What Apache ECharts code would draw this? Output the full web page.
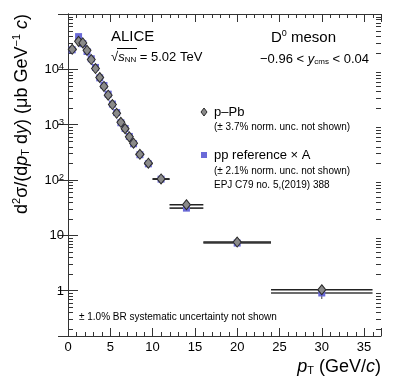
<!doctype html>
<html>
<head>
<meta charset="utf-8">
<title>D0 meson p-Pb</title>
<script src="https://cdn.jsdelivr.net/npm/echarts@6/dist/echarts.min.js"></script>
<style>
  html, body { margin: 0; padding: 0; background: #fff; }
  #main { width: 399px; height: 387px; }
</style>
</head>
<body>
<div id="main"></div>
<script type="text/javascript">
// pT bins (GeV/c)
var ptCenter = [0.5, 1.25, 1.75, 2.25, 2.75, 3.25, 3.75, 4.25, 4.75, 5.25, 5.75, 6.25, 6.75, 7.25, 7.75, 8.5, 9.5, 11, 14, 20, 30];
var ptLow    = [0, 1, 1.5, 2, 2.5, 3, 3.5, 4, 4.5, 5, 5.5, 6, 6.5, 7, 7.5, 8, 9, 10, 12, 16, 24];
var ptHigh   = [1, 1.5, 2, 2.5, 3, 3.5, 4, 4.5, 5, 5.5, 6, 6.5, 7, 7.5, 8, 9, 10, 12, 16, 24, 36];

// p-Pb cross section (ub GeV^-1 c) and stat. errors
var pPbValues = [23000, 32000, 30000, 22000, 15000, 10300, 7100, 4900, 3400, 2300, 1600, 1100, 840, 600, 460, 290, 200, 104, 35.5, 7.5, 1.03];
var pPbStat   = [1500, 2500, 1800, 1100, 700, 450, 300, 200, 130, 90, 60, 40, 32, 24, 18, 12, 9, 5, 1.8, 0.45, 0.12];

// pp reference x A
var ppValues = [22500, 39000, 29000, 21000, 15500, 10800, 7000, 5100, 3550, 2350, 1650, 1080, 850, 610, 450, 285, 195, 103, 30.8, 7.2, 0.9];
var ppStat   = [1000, 2000, 1000, 700, 500, 350, 220, 150, 100, 70, 50, 35, 28, 20, 15, 10, 7, 4, 1.5, 0.4, 0.2];

// axis ticks
var xMajor = [0, 5, 10, 15, 20, 25, 30, 35];
var xMinor = [1, 2, 3, 4, 6, 7, 8, 9, 11, 12, 13, 14, 16, 17, 18, 19, 21, 22, 23, 24, 26, 27, 28, 29, 31, 32, 33, 34, 36];
var yDecades = [0.1, 1, 10, 100, 1000, 10000];
var yMinorFactors = [2, 3, 4, 5, 6, 7, 8, 9];

var F = 'Liberation Sans, Arial, sans-serif';
var AX = '#333';

var myChart = echarts.init(document.getElementById('main'));

var yMinor = [];
yDecades.forEach(function (d) {
  yMinorFactors.forEach(function (k) {
    var v = d * k;
    if (v > 0.15 && v < 1e5) yMinor.push([0, v]);
  });
});

function errData(vals, stat) {
  return vals.map(function (v, i) {
    return [ptCenter[i], v, ptLow[i], ptHigh[i], v - stat[i], v + stat[i]];
  });
}

function renderErr(color, w) {
  return function (params, api) {
    var x = api.value(0), y = api.value(1);
    var pl = api.coord([api.value(2), y]);
    var pr = api.coord([api.value(3), y]);
    var plo = api.coord([x, api.value(4)]);
    var phi = api.coord([x, api.value(5)]);
    return {
      type: 'group',
      children: [
        { type: 'line', shape: { x1: pl[0], y1: pl[1], x2: pr[0], y2: pr[1] }, style: { stroke: color, lineWidth: w } },
        { type: 'line', shape: { x1: plo[0], y1: plo[1], x2: phi[0], y2: phi[1] }, style: { stroke: color, lineWidth: 1 } }
      ]
    };
  };
}

var option = {
  animation: false,
  backgroundColor: '#fff',
  grid: { left: 68, right: 18, top: 14, bottom: 51 },
  xAxis: [
    {
      type: 'value', min: 0, max: 37, interval: 5, position: 'bottom',
      axisLine: { lineStyle: { color: AX, width: 1 } },
      axisTick: { inside: true, length: 8, lineStyle: { color: AX } },
      axisLabel: {
        margin: 5, fontFamily: F, fontSize: 13, color: '#000',
        formatter: function (v) { return xMajor.indexOf(v) >= 0 ? String(v) : ''; }
      },
      splitLine: { show: false }
    },
    {
      type: 'value', min: 0, max: 37, interval: 5, position: 'top',
      axisLine: { lineStyle: { color: AX, width: 1 } },
      axisTick: { inside: true, length: 8, lineStyle: { color: AX } },
      axisLabel: { show: false },
      splitLine: { show: false }
    }
  ],
  yAxis: [
    {
      type: 'log', logBase: 10, min: 0.15, max: 1e5, position: 'left',
      axisLine: { show: true, lineStyle: { color: AX, width: 1 } },
      axisTick: { show: true, inside: true, length: 10, lineStyle: { color: AX } },
      axisLabel: {
        margin: 4, fontFamily: F, fontSize: 13, color: '#000',
        formatter: function (v) {
          var l = Math.log10(v), e = Math.round(l);
          if (Math.abs(l - e) > 1e-6 || e < 0 || e > 4) return '';
          if (e === 0) return '{b|1}';
          if (e === 1) return '{b|10}';
          return '{b|10}{s|' + e + '}';
        },
        rich: {
          b: { fontFamily: F, fontSize: 13, lineHeight: 14, verticalAlign: 'bottom', color: '#000' },
          s: { fontFamily: F, fontSize: 9, lineHeight: 9, padding: [0, 0, 8, 0], verticalAlign: 'top', color: '#000' }
        }
      },
      splitLine: { show: false }
    },
    {
      type: 'log', logBase: 10, min: 0.15, max: 1e5, position: 'right',
      axisLine: { show: true, lineStyle: { color: AX, width: 1 } },
      axisTick: { show: true, inside: true, length: 10, lineStyle: { color: AX } },
      axisLabel: { show: false },
      splitLine: { show: false }
    }
  ],
  series: [
    {
      // minor ticks of the log axis, both sides
      type: 'custom', silent: true, z: 1, clip: false,
      data: yMinor,
      renderItem: function (params, api) {
        var cs = params.coordSys;
        var y = Math.round(api.coord([0, api.value(1)])[1]) + 0.5;
        return {
          type: 'group',
          children: [
            { type: 'line', shape: { x1: cs.x, y1: y, x2: cs.x + 5, y2: y }, style: { stroke: AX, lineWidth: 1 } },
            { type: 'line', shape: { x1: cs.x + cs.width - 5, y1: y, x2: cs.x + cs.width, y2: y }, style: { stroke: AX, lineWidth: 1 } }
          ]
        };
      }
    },
    {
      // minor ticks of the x axis, top and bottom
      type: 'custom', silent: true, z: 1, clip: false,
      data: xMinor.map(function (x) { return [x, 1]; }),
      renderItem: function (params, api) {
        var cs = params.coordSys;
        var x = Math.round(api.coord([api.value(0), 1])[0]) + 0.5;
        return {
          type: 'group',
          children: [
            { type: 'line', shape: { x1: x, y1: cs.y + cs.height, x2: x, y2: cs.y + cs.height - 4 }, style: { stroke: AX, lineWidth: 1 } },
            { type: 'line', shape: { x1: x, y1: cs.y, x2: x, y2: cs.y + 4 }, style: { stroke: AX, lineWidth: 1 } }
          ]
        };
      }
    },
    {
      name: 'pp err', type: 'custom', silent: true, z: 2,
      data: errData(ppValues, ppStat),
      renderItem: renderErr('#3a3a3a', 1.6)
    },
    {
      name: 'p-Pb err', type: 'custom', silent: true, z: 2,
      data: errData(pPbValues, pPbStat),
      renderItem: renderErr('#222', 1.6)
    },
    {
      name: 'pp reference \u00d7 A', type: 'scatter', z: 3,
      symbol: 'rect', symbolSize: 7,
      itemStyle: { color: '#6a6ad8', opacity: 1 },
      data: ptCenter.map(function (x, i) { return [x, ppValues[i]]; })
    },
    {
      name: 'p\u2013Pb', type: 'scatter', z: 4,
      symbol: 'diamond', symbolSize: [8, 10],
      itemStyle: { color: '#8a8a8a', borderColor: '#2a2a2a', borderWidth: 1, opacity: 1 },
      data: ptCenter.map(function (x, i) { return [x, pPbValues[i]]; })
    }
  ],
  graphic: [
    { type: 'text', x: 111, y: 37, style: { text: 'ALICE', fontFamily: F, fontSize: 15, fill: '#000', verticalAlign: 'middle' } },
    {
      type: 'text', x: 111, y: 56,
      style: {
        text: '{r|\u221a}{i|s}{sub|NN}{n| = 5.02 TeV}', verticalAlign: 'middle',
        rich: {
          r: { fontFamily: F, fontSize: 13, fill: '#000', verticalAlign: 'bottom', lineHeight: 15 },
          i: { fontFamily: F, fontSize: 13, fontStyle: 'italic', fill: '#000', verticalAlign: 'bottom', lineHeight: 15 },
          sub: { fontFamily: F, fontSize: 8, fill: '#000', verticalAlign: 'bottom', lineHeight: 8, padding: [0, 0, 0, 0] },
          n: { fontFamily: F, fontSize: 13, fill: '#000', verticalAlign: 'bottom', lineHeight: 15 }
        }
      }
    },
    { type: 'line', shape: { x1: 117, y1: 48.5, x2: 137, y2: 48.5 }, style: { stroke: '#000', lineWidth: 1 } },
    {
      type: 'text', x: 336, y: 37,
      style: {
        text: '{t|D}{s|0}{t| meson}', align: 'right', verticalAlign: 'middle',
        rich: {
          t: { fontFamily: F, fontSize: 15, fill: '#000', verticalAlign: 'bottom', lineHeight: 16 },
          s: { fontFamily: F, fontSize: 9, fill: '#000', verticalAlign: 'top', lineHeight: 9, padding: [0, 0, 9, 0] }
        }
      }
    },
    {
      type: 'text', x: 369, y: 58,
      style: {
        text: '{t|\u22120.96 < }{i|y}{sub|cms}{t| < 0.04}', align: 'right', verticalAlign: 'middle',
        rich: {
          t: { fontFamily: F, fontSize: 13, fill: '#000', verticalAlign: 'bottom', lineHeight: 15 },
          i: { fontFamily: F, fontSize: 13, fontStyle: 'italic', fill: '#000', verticalAlign: 'bottom', lineHeight: 15 },
          sub: { fontFamily: F, fontSize: 8, fill: '#000', verticalAlign: 'bottom', lineHeight: 8 }
        }
      }
    },
    // legend
    { type: 'polygon', shape: { points: [[204, 108], [207, 112], [204, 116], [201, 112]] }, style: { fill: '#8a8a8a', stroke: '#2a2a2a', lineWidth: 1 } },
    { type: 'text', x: 214, y: 112, style: { text: 'p\u2013Pb', fontFamily: F, fontSize: 13, fill: '#000', verticalAlign: 'middle' } },
    { type: 'text', x: 214, y: 127, style: { text: '(\u00b1 3.7% norm. unc. not shown)', fontFamily: F, fontSize: 10, fill: '#000', verticalAlign: 'middle' } },
    { type: 'rect', shape: { x: 201, y: 152, width: 6, height: 6 }, style: { fill: '#6a6ad8' } },
    { type: 'text', x: 214, y: 155, style: { text: 'pp reference \u00d7 A', fontFamily: F, fontSize: 13, fill: '#000', verticalAlign: 'middle' } },
    { type: 'text', x: 214, y: 171, style: { text: '(\u00b1 2.1% norm. unc. not shown)', fontFamily: F, fontSize: 10, fill: '#000', verticalAlign: 'middle' } },
    { type: 'text', x: 214, y: 185, style: { text: 'EPJ C79 no. 5,(2019) 388', fontFamily: F, fontSize: 10, fill: '#000', verticalAlign: 'middle' } },
    { type: 'text', x: 79, y: 317, style: { text: '\u00b1 1.0% BR systematic uncertainty not shown', fontFamily: F, fontSize: 10, fill: '#000', verticalAlign: 'middle' } },
    // axis titles
    {
      type: 'text', x: 381, y: 366,
      style: {
        text: '{i|p}{sub|T}{t| (GeV/}{i|c}{t|)}', align: 'right', verticalAlign: 'middle',
        rich: {
          i: { fontFamily: F, fontSize: 18, fontStyle: 'italic', fill: '#000', verticalAlign: 'bottom', lineHeight: 20 },
          t: { fontFamily: F, fontSize: 18, fill: '#000', verticalAlign: 'bottom', lineHeight: 20 },
          sub: { fontFamily: F, fontSize: 11, fill: '#000', verticalAlign: 'bottom', lineHeight: 11, padding: [0, 0, 0, 0] }
        }
      }
    },
    {
      type: 'text', x: 21, y: 14, rotation: Math.PI / 2,
      style: {
        text: '{t|d}{sup|2}{t|\u03c3/(d}{i|p}{sub|T}{t| d}{i|y}{t|) (\u03bcb GeV}{sup|\u22121}{t| }{i|c}{t|)}',
        align: 'right', verticalAlign: 'middle',
        rich: {
          t: { fontFamily: F, fontSize: 18, fill: '#000', verticalAlign: 'bottom', lineHeight: 20 },
          i: { fontFamily: F, fontSize: 18, fontStyle: 'italic', fill: '#000', verticalAlign: 'bottom', lineHeight: 20 },
          sup: { fontFamily: F, fontSize: 11, fill: '#000', verticalAlign: 'top', lineHeight: 11, padding: [0, 0, 12, 0] },
          sub: { fontFamily: F, fontSize: 11, fill: '#000', verticalAlign: 'bottom', lineHeight: 11 }
        }
      }
    }
  ]
};

myChart.setOption(option);
</script>
</body>
</html>
